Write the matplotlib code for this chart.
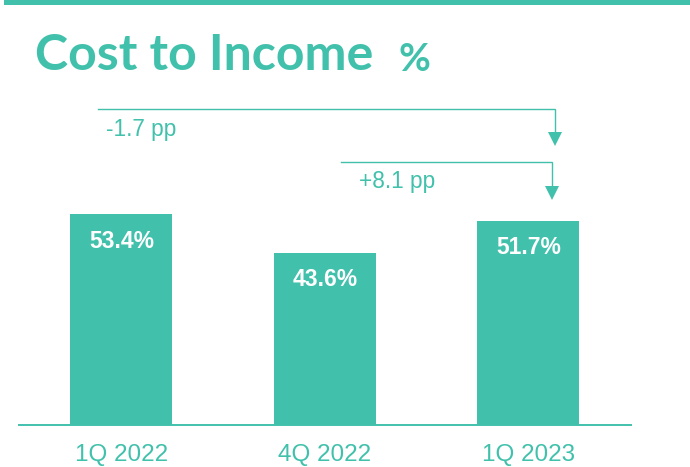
import matplotlib
matplotlib.use("Agg")
import matplotlib.pyplot as plt
from matplotlib.patches import Rectangle

# ---- data ----
categories = ["1Q 2022", "4Q 2022", "1Q 2023"]
values = [53.4, 43.6, 51.7]
value_labels = ["53.4%", "43.6%", "51.7%"]
change_labels = ["-1.7 pp", "+8.1 pp"]
title = "Cost to Income"
unit = "%"

TEAL = "#41C1AC"
W, H, DPI = 690, 467, 100

fig = plt.figure(figsize=(W / DPI, H / DPI), dpi=DPI)
fig.patch.set_facecolor("white")

# top band
fig.add_artist(Rectangle((4 / W, 1 - 5 / H), 1 - 4 / W, 5 / H,
                         transform=fig.transFigure, color=TEAL, lw=0))

# axes: baseline at pixel 425, top at pixel 100, x from 19.3 to 630.7
ax_left, ax_right = 19.3 / W, 630.7 / W
ax_bottom, ax_top = (H - 425) / H, (H - 100) / H
ax = fig.add_axes([ax_left, ax_bottom, ax_right - ax_left, ax_top - ax_bottom])
ax.set_xlim(-0.5015, 2.503)
ax.set_ylim(0, 82.28)
for s in ["top", "right", "left"]:
    ax.spines[s].set_visible(False)
ax.spines["bottom"].set_color(TEAL)
ax.spines["bottom"].set_linewidth(1.4)
ax.set_yticks([])

x = list(range(len(categories)))
ax.bar(x, values, width=0.5, color=TEAL, zorder=2)
ax.set_xticks([])

font = "Liberation Sans"

# category labels (baseline at pixel ~461)
for xi, c in zip(x, categories):
    ax.annotate(c, (xi, 0), xytext=(0, -(461 - 425) * 72 / DPI),
                textcoords="offset points", ha="center", va="baseline",
                fontsize=17.5, color=TEAL, family=font, annotation_clip=False)

# value labels inside bars
for xi, v, lab in zip(x, values, value_labels):
    ax.annotate(lab, (xi, v), xytext=(0, -33.5 * 72 / DPI),
                textcoords="offset points", ha="center", va="baseline",
                fontsize=16.5, fontweight="bold", color="white", family=font)

# change arrows
lw = 1.0
# upper: from 1Q 2022 to 1Q 2023
y_up = 79.92
x_up0, x_up1 = -0.1162, 2.131
ax.plot([x_up0, x_up1, x_up1], [y_up, y_up, 72.5], color=TEAL, lw=lw,
        solid_joinstyle="miter", clip_on=False)
ax.plot([x_up1], [72.32], marker="v", markersize=9.6, color=TEAL,
        markeredgewidth=0, clip_on=False)
ax.text(-0.077, 74.76, change_labels[0], ha="left", va="center",
        fontsize=16.3, color=TEAL, family=font)

# lower: from 4Q 2022 to 1Q 2023
y_lo = 66.5
x_lo0, x_lo1 = 1.079, 2.117
ax.plot([x_lo0, x_lo1, x_lo1], [y_lo, y_lo, 59.0], color=TEAL, lw=lw,
        solid_joinstyle="miter", clip_on=False)
ax.plot([x_lo1], [58.82], marker="v", markersize=9.6, color=TEAL,
        markeredgewidth=0, clip_on=False)
ax.text(1.166, 61.77, change_labels[1], ha="left", va="center",
        fontsize=16.3, color=TEAL, family=font)

# title, fitted to target width 339 px, baseline at pixel 70
t = fig.text(35 / W, 1 - 70 / H, title, ha="left", va="baseline",
             fontsize=30, fontweight="bold", color=TEAL, family="Lato")
fig.canvas.draw()
bb = t.get_window_extent()
t.set_fontsize(30 * 339 / bb.width)
fig.text(399 / W, 1 - 71 / H, unit, ha="left", va="baseline",
         fontsize=28, fontweight="bold", color=TEAL, family="Lato")

fig.savefig("out.png", dpi=DPI, facecolor="white")
